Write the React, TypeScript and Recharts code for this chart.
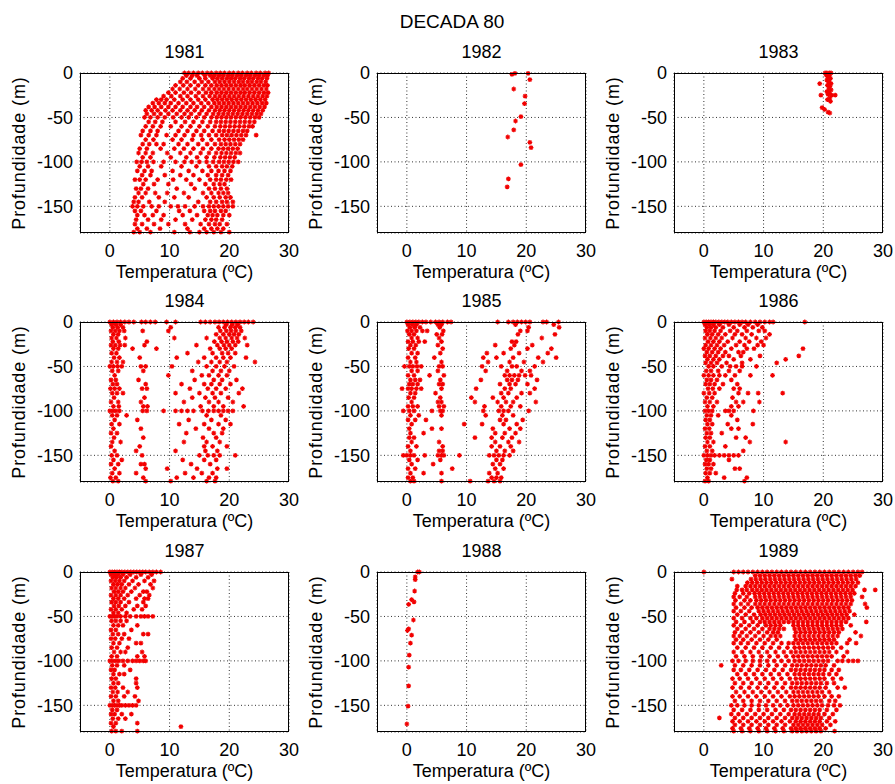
import { ScatterChart, Scatter, XAxis, YAxis, CartesianGrid } from "recharts";

// each row: [profundidade (m), temperaturas (ºC) medidas nessa profundidade]
type Row = [number, number[]];

const years = ["1981", "1982", "1983", "1984", "1985", "1986", "1987", "1988", "1989"];
const xTicks = [0, 10, 20, 30];
const yTicks = [0, -50, -100, -150];

const d1981: Row[] = [
  [0, [12.5, 13.2, 14, 14.8, 15.5, 16.3, 17, 17.8, 18.5, 19.2, 20, 20.7, 21.5, 22.2, 23, 23.7, 24.5, 25.2, 26, 26.6]],
  [-3, [12.8, 13.8, 14.6, 15.9, 16.8, 17.5, 18.3, 19, 19.8, 20.5, 21.3, 22, 22.8, 23.5, 24.3, 25, 25.8, 26.4]],
  [-6, [12.2, 13.5, 15, 16, 17.2, 18, 18.8, 19.6, 20.3, 21, 21.8, 22.5, 23.3, 24, 24.8, 25.5, 26.3]],
  [-10, [11.8, 12.9, 14.2, 15.4, 16.5, 17.6, 18.4, 19.2, 20, 20.8, 21.6, 22.3, 23.1, 23.8, 24.6, 25.3, 26.1]],
  [-14, [11, 12.3, 13.5, 14.8, 16, 17, 17.9, 18.7, 19.5, 20.3, 21.1, 21.9, 22.6, 23.4, 24.2, 25, 25.8, 26.4]],
  [-18, [10.5, 11.7, 13, 14.3, 15.6, 16.6, 17.5, 18.3, 19.1, 19.9, 20.7, 21.5, 22.3, 23, 23.8, 24.6, 25.4, 26.2]],
  [-22, [9.8, 11, 12.4, 13.6, 14.9, 16.1, 17, 17.9, 18.7, 19.5, 20.3, 21.1, 21.9, 22.6, 23.4, 24.2, 25, 25.8, 26.5]],
  [-26, [9, 10.3, 11.8, 13, 14.4, 15.6, 16.7, 17.6, 18.4, 19.2, 20, 20.8, 21.6, 22.4, 23.2, 24, 24.8, 25.6, 26.3]],
  [-30, [7.8, 8.6, 9.5, 10.8, 12.2, 13.5, 14.8, 16, 17.2, 18, 18.8, 19.6, 20.4, 21.2, 22, 22.8, 23.6, 24.4, 25.2, 26]],
  [-34, [7.2, 8.2, 9.2, 10.2, 11.5, 12.8, 14, 15.3, 16.5, 17.5, 18.3, 19.1, 19.9, 20.7, 21.5, 22.3, 23.1, 23.9, 24.7, 25.5, 26.2]],
  [-38, [6.5, 7.5, 8.6, 9.8, 11, 12.2, 13.5, 14.6, 15.8, 17, 17.9, 18.7, 19.5, 20.3, 21.1, 21.9, 22.7, 23.5, 24.3, 25.1, 25.9]],
  [-42, [6, 7, 8, 9.3, 10.5, 11.8, 13, 14.2, 15.4, 16.6, 17.6, 18.4, 19.2, 20, 20.8, 21.6, 22.4, 23.2, 24, 24.8, 25.6]],
  [-46, [6.2, 7.4, 8.5, 9.8, 11.2, 12.5, 13.6, 15, 16.2, 17.3, 18.2, 19, 19.8, 20.6, 21.4, 22.2, 23, 23.8, 24.6, 25.3]],
  [-50, [5.8, 6.8, 8, 9.2, 10.6, 12, 13.2, 14.5, 15.8, 17, 17.9, 18.7, 19.5, 20.3, 21.1, 21.9, 22.7, 23.5, 24.3, 25]],
  [-55, [6.5, 7.6, 8.8, 11, 12.6, 14, 15.5, 16.8, 17.8, 18.6, 19.4, 20.2, 21, 21.8, 22.6, 23.4, 24.2]],
  [-60, [6, 7.2, 8.5, 10.2, 12, 13.5, 15, 16.4, 17.6, 18.5, 19.3, 20.1, 20.9, 21.7, 22.5, 23.3, 23.9]],
  [-65, [5.5, 6.8, 8, 11.5, 13, 14.5, 15.8, 17.2, 18.3, 19.1, 19.9, 20.7, 21.5, 22.3, 23]],
  [-70, [5.2, 6.5, 7.8, 9.5, 11, 12.5, 14, 15.3, 16.6, 17.8, 18.8, 19.6, 20.4, 21.2, 22, 22.8, 24.5]],
  [-75, [6, 7.3, 10.5, 12, 13.8, 15.5, 17, 18.3, 19.2, 20, 20.8, 21.6, 22.3]],
  [-80, [5.5, 6.6, 7.8, 9, 11.5, 13, 14.8, 16.3, 17.6, 18.6, 19.4, 20.2, 21, 21.8]],
  [-85, [5, 6.2, 8.5, 10.8, 12.4, 14, 15.6, 17, 18.2, 19, 19.8, 20.6, 21.4]],
  [-90, [4.8, 6, 7.2, 9.6, 11.8, 13.5, 15.2, 16.6, 17.8, 18.7, 19.5, 20.3, 21.1, 21.8]],
  [-95, [5.5, 6.8, 10.2, 12.8, 14.6, 16.2, 17.5, 18.5, 19.3, 20.1, 20.9]],
  [-100, [4.5, 5.3, 6.2, 7.3, 9, 11, 12.5, 13.7, 15, 16.2, 17.3, 18.3, 19.1, 19.9, 20.7, 21.5]],
  [-105, [5, 6.4, 8.6, 12, 14.5, 16.6, 17.8, 18.8, 19.6, 20.5]],
  [-110, [4.6, 5.8, 7, 10.5, 13.2, 15.5, 17, 18.2, 19.2, 20.2]],
  [-115, [5.4, 6.8, 9.2, 11.8, 14, 16.4, 17.8, 18.8, 19.8]],
  [-120, [4.2, 5, 6, 8, 10.6, 12.8, 15, 16.8, 17.8, 18.6, 19.5, 20.3]],
  [-125, [5.6, 7.4, 9.8, 13.6, 16, 17.4, 18.4, 19.2]],
  [-130, [4.4, 5.2, 6.4, 11.2, 14.2, 16.6, 17.6, 18.6, 19.6]],
  [-135, [4.8, 6, 7.6, 9.6, 12.4, 15.6, 17, 18.2, 19, 19.8]],
  [-140, [4.2, 5.4, 8.2, 10.8, 13.2, 16.2, 17.4, 18.4, 19.4, 20.2]],
  [-145, [4, 4.8, 6.6, 9.2, 14.8, 16.8, 17.8, 18.8, 19.6, 20.6]],
  [-150, [3.8, 4.6, 5.6, 7, 8.2, 10.2, 11.4, 12.6, 14.2, 15.6, 16.6, 17.4, 18.2, 19, 19.8, 20.6]],
  [-155, [4.2, 5.2, 7.8, 11.6, 13.4, 15.8, 16.8, 17.6, 18.6, 19.4]],
  [-160, [4.6, 5.8, 7.2, 9, 12.2, 14.6, 16.4, 17.2, 18, 19, 20]],
  [-165, [4.4, 6.4, 8.6, 11, 13.8, 16, 17, 17.8, 18.8]],
  [-170, [4.2, 5.4, 7.4, 9.8, 12.6, 15.2, 16.6, 17.6, 18.4, 19.6]],
  [-175, [4.6, 6.2, 8.4, 13, 15.8, 17, 18, 19]],
  [-179, [4, 5, 6.8, 10.8, 13.4, 15, 16.2, 17.4, 18.6, 20]],
];

const d1982: Row[] = [
  [-0.5, [18.1, 20.3]],
  [-1.5, [17.6]],
  [-7.5, [20.6]],
  [-18, [17.9]],
  [-26, [19.8]],
  [-34.5, [19.7]],
  [-49, [19.1]],
  [-54, [18.2]],
  [-64, [17.9]],
  [-72, [16.9]],
  [-78, [20.6]],
  [-84, [20.8]],
  [-103, [19.1]],
  [-119, [17]],
  [-128, [16.8]],
];

const d1983: Row[] = [
  [0, [20.3, 20.6, 21, 21.3]],
  [-2, [20.5]],
  [-3, [21]],
  [-5, [20.8]],
  [-6, [21.2]],
  [-8, [20.6]],
  [-9, [21]],
  [-11, [20.9]],
  [-12, [19.4, 21.3]],
  [-14, [20.7]],
  [-15, [21.1]],
  [-18, [20.9]],
  [-19, [21.3]],
  [-21, [20.6]],
  [-22, [21]],
  [-24, [20.8]],
  [-25, [19.6, 21.4, 22]],
  [-28, [21.1]],
  [-30, [20.7]],
  [-32, [21.2]],
  [-39, [19.8]],
  [-41, [20.2]],
  [-44, [20.8]],
  [-45, [21.1]],
];

const d1984: Row[] = [
  [0, [0, 0.6, 1.2, 1.8, 2.5, 3.2, 4, 5.3, 6, 6.8, 7.6, 9.5, 11, 15.2, 16, 16.8, 17.6, 18.3, 19, 19.7, 20.4, 21.1, 21.8, 22.5, 23.2, 24]],
  [-3, [0.3, 1, 1.8, 19.5, 20.5, 21.4]],
  [-6, [0.5, 1.3, 2.2, 10.2, 18.2, 19.2, 20.2, 21, 21.8]],
  [-10, [0.2, 0.9, 1.6, 2.4, 5.5, 9.8, 18.5, 19.5, 20.3, 21.1, 22]],
  [-14, [0.6, 1.4, 17.8, 19, 20, 20.8, 21.6]],
  [-18, [0.3, 1.1, 2.6, 10.8, 16.2, 18.4, 19.4, 20.4, 21.3, 22.6]],
  [-22, [0.5, 1.5, 6.2, 17.5, 18.7, 19.6, 20.6, 21.5]],
  [-26, [0.2, 0.9, 1.7, 2.5, 5.8, 14.5, 18, 19.1, 20, 21, 23]],
  [-30, [0.6, 1.4, 3.8, 7.8, 16.8, 18.4, 19.4, 20.4]],
  [-35, [0.3, 1.1, 13, 17.2, 18.8, 19.8, 21]],
  [-40, [0.7, 1.6, 5, 11.2, 15.8, 17.8, 19, 20.2, 22.8]],
  [-45, [0.3, 1.2, 2.2, 14.8, 17, 18.4, 19.6, 24.3]],
  [-50, [0, 0.6, 1.3, 2, 5.2, 6, 10.4, 16.2, 17.8, 19.2, 20.8]],
  [-55, [0.4, 1.4, 5.6, 13.8, 17.2, 18.6, 20]],
  [-60, [0.8, 9.8, 15.4, 16.6, 18.2, 19.6]],
  [-65, [0.2, 1, 4.8, 14.2, 17.4, 18.8, 21.2]],
  [-70, [0.5, 1.2, 6, 12, 15.8, 17, 18.4, 20.2]],
  [-75, [0.1, 0.8, 1.6, 5.4, 6.2, 13.4, 16.4, 17.8, 19.4, 22.2]],
  [-80, [0.4, 1.2, 2.2, 11, 15, 17.2, 18.6, 21.6]],
  [-85, [0.7, 5.8, 13.8, 16, 17.6, 19.8]],
  [-90, [0.2, 1.4, 5.2, 12.4, 16.6, 18.2, 20.6]],
  [-95, [0.6, 1.5, 5.6, 6.3, 15.2, 17.4, 19, 22.4]],
  [-100, [0, 0.5, 1, 1.6, 5.5, 6.2, 9, 11, 12, 13, 14, 15.5, 16.5, 17.4, 18.2, 19, 19.8, 20.6]],
  [-105, [0.4, 1.2, 2.8, 16.2, 18.6]],
  [-110, [0.8, 4.6, 13.2, 17, 19.4]],
  [-115, [0.3, 1.6, 11.6, 15.8, 18.2, 20.2]],
  [-120, [0.6, 5.2, 14.4, 16.6, 19]],
  [-125, [0.2, 1.2, 12.8, 17.4, 18.8]],
  [-130, [0.7, 5.6, 15.6, 17.8]],
  [-135, [0.4, 1.8, 12.4, 16.2, 18.4]],
  [-140, [0.2, 5, 15.8, 17.2, 19.6]],
  [-145, [0.8, 4.4, 11, 16, 18]],
  [-150, [0.3, 1.2, 5.4, 15, 16.4, 17.4, 18.4, 21]],
  [-155, [0.6, 2, 12.2, 15.8, 17.8]],
  [-160, [0.2, 1.4, 5.2, 5.8, 13.6, 16.8]],
  [-165, [0.8, 6, 9.6, 14.6, 18, 19.6]],
  [-170, [0.4, 1.6, 4.4, 12.6, 15.4, 17.2]],
  [-175, [0.1, 1, 5.6, 11.2, 14, 16.6, 17.8]],
  [-179, [0.5, 1.4, 6, 10.2, 16.2, 17.6]],
];

const d1985: Row[] = [
  [0, [0, 0.5, 1, 1.5, 2, 2.6, 3.2, 4, 4.8, 5.4, 6, 6.8, 7.4, 15.2, 17, 17.8, 18.5, 19.2, 19.9, 20.6, 22.8, 23.4, 25.4]],
  [-3, [0.2, 0.9, 1.6, 5.2, 5.8, 18.2, 24.6]],
  [-6, [0.5, 1.3, 2.2, 5.5, 20.4, 25.5]],
  [-10, [0.1, 0.8, 1.6, 2.6, 3.4, 6.1, 19, 20.2]],
  [-14, [0.4, 1.2, 5, 5.9, 18.6, 24.8]],
  [-18, [0.8, 1.8, 5.4, 22.6]],
  [-22, [0.2, 1, 2, 3, 5.8, 17.6, 18.3]],
  [-26, [0.6, 1.5, 5.2, 14.8, 18, 21]],
  [-30, [0.3, 1.2, 6, 17.4, 20.2, 24.2]],
  [-35, [0.8, 1.8, 5.6, 13.4, 16.2, 18.8, 23.6]],
  [-40, [0.2, 1.4, 4.6, 12.8, 15, 17.8, 22, 25]],
  [-45, [0.6, 1.6, 5.8, 13.6, 17.2, 19.6, 22.8]],
  [-50, [-0.4, 0.4, 1, 1.7, 2.4, 5.4, 6, 12.6, 15.8, 17.6, 18.4, 21.4]],
  [-55, [0.8, 1.8, 5.2, 13.2, 16.8, 19.2, 20.6]],
  [-60, [0.2, 1.2, 3.8, 6.2, 16.4, 17.2, 18, 18.8, 19.8, 20.8]],
  [-65, [0.6, 1.4, 2.2, 5.6, 12.4, 16.8, 17.6, 18.6, 21.8]],
  [-70, [0.4, 1, 1.8, 5.4, 6, 15.6, 17.2, 18.2, 20.2]],
  [-75, [-0.8, 0.2, 0.8, 1.6, 2.4, 5.8, 11.6, 16.4, 17.4, 21.4]],
  [-80, [0.6, 1.4, 4.8, 15.8, 17, 19.2, 20.6]],
  [-85, [0.3, 1.2, 5.6, 10.8, 14.4, 16.2, 18.4]],
  [-90, [0.8, 5.2, 5.8, 11.4, 15.2, 16.6, 17.8, 21.6]],
  [-95, [0.2, 1, 1.8, 5.4, 6.2, 13, 15.8, 17.4, 19]],
  [-100, [-0.6, 0.4, 1.2, 4.2, 5.6, 6, 12.8, 15.4, 16.2, 17, 20.4]],
  [-105, [0.6, 2, 5.8, 13.2, 16, 17.8]],
  [-110, [0.2, 1.4, 3.2, 15.6, 16.6, 19.4]],
  [-115, [0.8, 9.6, 12.6, 16.2, 18.4]],
  [-120, [0.4, 4.2, 5.8, 14.4, 17.2, 19]],
  [-125, [0.6, 2.8, 14.8, 16.4, 18.2]],
  [-130, [0.4, 1.2, 11.4, 14.2, 16, 17.6]],
  [-135, [0.8, 5.4, 14.8, 17, 18.8]],
  [-140, [0.2, 1.6, 6, 14.2, 15.6, 17.4]],
  [-145, [0.6, 5.4, 6, 15, 16.4, 17.8]],
  [-150, [-0.6, 0, 0.6, 1.2, 3, 5.2, 5.8, 6.2, 8.8, 13.8, 14.6, 15.4, 16.2, 17.2]],
  [-155, [0.4, 1.8, 5.6, 15, 16]],
  [-160, [0.8, 4.4, 14.4, 15.6]],
  [-165, [0.2, 1.4, 7.6, 14.8, 16.2]],
  [-170, [0.6, 2.8, 5.8, 13.8, 15.2]],
  [-175, [0.2, 1, 14.2, 15, 15.8]],
  [-179, [0.6, 1.2, 5.8, 10.6, 13.6, 14.6, 15.6]],
];

const d1986: Row[] = [
  [0, [0, 0.4, 0.8, 1.2, 1.6, 2, 2.5, 3, 3.5, 4, 4.6, 5.2, 5.8, 6.4, 7, 7.8, 8.6, 9.4, 10.2, 11, 11.6, 16.9]],
  [-3, [0.2, 0.9, 1.6, 2.6, 4.2, 6, 7.4, 9]],
  [-6, [0.5, 1.2, 2, 3.2, 5, 6.8, 8.2, 9.8]],
  [-10, [0.3, 1, 1.8, 2.8, 4.4, 5.6, 7.2, 9.2, 10.2]],
  [-14, [0.6, 1.4, 2.4, 3.6, 5.2, 6.4, 8, 11]],
  [-18, [0.2, 1.1, 2, 3, 4.8, 7, 8.8, 10.4]],
  [-22, [0.7, 1.6, 2.6, 4, 6, 7.6, 9.6]],
  [-26, [0.3, 1.2, 2.2, 3.4, 5.4, 6.8, 9, 10]],
  [-30, [0, 0.8, 1.8, 2.8, 4.6, 7.2, 8.4, 16.6]],
  [-34, [0.5, 1.4, 2.4, 3.6, 5.8, 6.6]],
  [-38, [0.2, 1, 2, 3.2, 4.2, 6.2, 9.4, 15.9]],
  [-42, [0.6, 1.6, 2.6, 5, 7.8, 13.7]],
  [-46, [0.3, 1.2, 2.2, 3.8, 6.4, 12.2]],
  [-50, [0.8, 1.6, 3, 4.4, 5.4, 6.4, 8.8]],
  [-55, [0.4, 1.2, 2.4, 4.2, 6]],
  [-60, [0, 0.8, 1.6, 2.6, 3.6, 5.2, 7.8, 11.5]],
  [-65, [0.5, 1.2, 2.2, 4.6]],
  [-70, [0.3, 1, 1.8, 3.2, 5.6]],
  [-75, [0.7, 1.5, 2.6, 5, 6]],
  [-80, [0, 0.9, 1.8, 5.8, 7.4, 9.1, 13.2]],
  [-85, [0.5, 1.4, 4.8]],
  [-90, [0.2, 1, 2.2, 5.4, 6.6, 9.3]],
  [-95, [0.6, 1.6, 4.6, 5.8]],
  [-100, [0.2, 0.8, 1.4, 3.6, 4.2, 5, 8.3]],
  [-105, [0.5, 1.2, 2.4, 4.6]],
  [-110, [0.3, 1, 5.6]],
  [-115, [0.6, 1.4, 4, 8.2]],
  [-120, [0.2, 0.9, 4.6, 5.8]],
  [-125, [0.5, 1.2, 3]],
  [-130, [0.3, 1, 5.4, 7]],
  [-135, [0.6, 1.6, 7.7, 13.7]],
  [-140, [0.2, 1, 3.6]],
  [-145, [0.5, 1.4, 6.6]],
  [-150, [0, 0.6, 1.2, 1.8, 2.6, 3.4, 4.2, 5, 5.8]],
  [-155, [0.4, 1, 4.2]],
  [-160, [0.2, 0.8, 1.6]],
  [-165, [0.5, 1.2, 5.2, 6]],
  [-170, [0.3, 1, 2]],
  [-175, [0.6, 3.4, 7.2]],
  [-179, [0.2, 0.8, 6.8]],
];

const d1987: Row[] = [
  [0, [0, 0.4, 0.8, 1.2, 1.6, 2, 2.5, 3, 3.5, 4, 4.5, 5, 5.5, 6, 6.6, 7.2, 7.8, 8.5]],
  [-3, [0.2, 0.8, 1.4, 2.2, 3.4, 5.2, 7]],
  [-6, [0.5, 1.1, 1.8, 2.8, 4.4, 6.4]],
  [-10, [0.2, 0.9, 1.6, 2.4, 3.8, 5.8, 7.4]],
  [-14, [0.6, 1.3, 2, 3.2, 4.8, 6.8]],
  [-18, [0.3, 1, 1.8, 2.6, 4.2, 7.2]],
  [-22, [0.7, 1.4, 2.2, 3.6, 5.6, 6.2]],
  [-26, [0.2, 1, 1.8, 3, 5, 6.6]],
  [-30, [0.6, 1.4, 2.4, 4.4, 5.8, 6.4]],
  [-34, [0.3, 1, 1.8, 3.2, 5.6]],
  [-38, [0.7, 1.5, 2.6, 4.6, 6]],
  [-42, [0.2, 1, 2, 4, 5.4]],
  [-46, [0.6, 1.4, 2.8]],
  [-50, [0, 0.4, 0.8, 1.2, 1.8, 2.6, 3.4, 4.4, 5.2, 5.8, 6.4, 7.2]],
  [-55, [0.3, 1, 1.8, 2.8]],
  [-60, [0.6, 1.4, 2.2, 4.6]],
  [-65, [0.2, 1, 3.6]],
  [-70, [0.5, 1.4, 2.4, 5.6, 6.4]],
  [-75, [0.2, 0.9, 2, 3.2]],
  [-80, [0.6, 1.6, 4.4, 5.2]],
  [-85, [0.3, 1.2, 3]],
  [-90, [0.7, 1.8, 2.6, 5.4]],
  [-95, [0.3, 1.2, 4.6, 5.8]],
  [-100, [0, 0.5, 1, 1.5, 2.2, 3, 3.8, 4.4, 5, 5.6, 6]],
  [-105, [0.4, 1.2, 2.4]],
  [-110, [0.2, 0.8, 3.4]],
  [-115, [0.6, 1.6, 2.4]],
  [-120, [0.3, 1, 4.4]],
  [-125, [0.6, 1.4, 4.4]],
  [-130, [0.2, 0.9, 2.2, 4.6]],
  [-135, [0.5, 1.3, 3]],
  [-140, [0.2, 1, 2.4, 4.2]],
  [-145, [0.6, 1.4, 4.8]],
  [-150, [0, 0.4, 0.8, 1.2, 1.6, 2, 2.6, 3.2, 3.8, 4.4]],
  [-155, [0.4, 1.2]],
  [-160, [0.2, 0.8, 2, 3.6]],
  [-165, [0.5, 1.4, 2.6]],
  [-170, [0.2, 1, 4.6]],
  [-174, [0.6, 11.9]],
  [-179, [0.3, 1, 2, 4.6]],
];

const d1988: Row[] = [
  [0, [1.8, 2.1]],
  [-5.6, [1.4]],
  [-8.6, [1.4]],
  [-21.4, [1.3]],
  [-31, [0.8]],
  [-33.5, [1.2]],
  [-36.5, [0.3]],
  [-54, [1.1]],
  [-64, [0.3]],
  [-65.8, [0.1]],
  [-71, [0.8]],
  [-80, [0.6]],
  [-93.6, [0.4]],
  [-107, [0.3]],
  [-128, [0.3]],
  [-151, [0.2]],
  [-171, [0]],
];

const d1989: Row[] = [
  [0, [0, 5, 5.8, 6.6, 7.4, 8.2, 9, 9.8, 10.6, 11.4, 12.2, 13, 13.8, 14.6, 15.4, 16.2, 17, 17.8, 18.6, 19.4, 20.2, 21, 21.8, 22.6, 23.4, 24.2, 25, 25.8, 26.5]],
  [-4, [8.6, 9.4, 10.2, 11, 11.8, 12.6, 13.4, 14.2, 15, 15.8, 16.6, 17.4, 18.2, 19, 19.8, 20.6, 21.4, 22.2, 23, 23.8, 24.6, 25.4, 26.1]],
  [-8, [4.7, 7.9, 8.7, 9.5, 10.3, 11.1, 11.9, 12.7, 13.5, 14.3, 15.1, 15.9, 16.7, 17.5, 18.3, 19.1, 19.9, 20.7, 21.5, 22.3, 23.1, 23.9, 24.7, 25.5]],
  [-12, [7.3, 8.1, 8.9, 9.7, 10.5, 11.3, 12.1, 12.9, 13.7, 14.5, 15.3, 16.1, 16.9, 17.7, 18.5, 19.3, 20.1, 20.9, 21.7, 22.5, 23.3, 24.1, 24.9, 25.8]],
  [-16, [5.6, 7, 7.8, 8.6, 9.4, 10.2, 11, 11.8, 12.6, 13.4, 14.2, 15, 15.8, 16.6, 17.4, 18.2, 19, 19.8, 20.6, 21.4, 22.2, 23, 23.8, 24.6, 25.4]],
  [-20, [5.5, 6.4, 7.2, 8.1, 8.9, 9.7, 10.5, 11.3, 12.1, 12.9, 13.7, 14.5, 15.3, 16.1, 16.9, 17.7, 18.5, 19.3, 20.1, 20.9, 21.7, 22.5, 23.3, 24.1, 24.9, 26.9, 28.7]],
  [-24, [5.2, 6.6, 7.6, 8.5, 9.3, 10.1, 10.9, 11.7, 12.5, 13.3, 14.1, 14.9, 15.7, 16.5, 17.3, 18.1, 18.9, 19.7, 20.5, 21.3, 22.1, 22.9, 23.7, 24.5, 25.2]],
  [-28, [5, 6, 7.2, 8.6, 9.4, 10.2, 11, 11.8, 12.6, 13.4, 14.2, 15, 15.8, 16.6, 17.4, 18.2, 19, 19.8, 20.6, 21.4, 22.2, 23, 23.8, 24.6, 26.5]],
  [-32, [5.3, 6.8, 7.8, 8.8, 9.6, 10.4, 11.2, 12, 12.8, 13.6, 14.4, 15.2, 16, 16.8, 17.6, 18.4, 19.2, 20, 20.8, 21.6, 22.4, 23.2, 24, 24.8]],
  [-36, [5, 6.2, 7.4, 8.6, 9.4, 10.2, 11, 11.8, 12.6, 13.4, 14.2, 15, 15.8, 16.6, 17.4, 18.2, 19, 19.8, 20.6, 21.4, 22.2, 23, 23.8, 24.6, 27]],
  [-40, [5.4, 6.8, 8, 9, 9.8, 10.6, 11.4, 12.2, 13, 13.8, 14.6, 15.4, 16.2, 17, 17.8, 18.6, 19.4, 20.2, 21, 21.8, 22.6, 23.4, 24.2, 27.3]],
  [-44, [5, 6.2, 7.6, 9.2, 10, 10.8, 11.6, 12.4, 13.2, 14, 14.8, 15.6, 16.4, 17.2, 18, 18.8, 19.6, 20.4, 21.2, 22, 22.8, 23.6, 24.4]],
  [-48, [5.6, 7, 8.4, 9.5, 10.3, 11.1, 11.9, 12.7, 13.5, 14.3, 15.1, 15.9, 16.7, 17.5, 18.3, 19.1, 19.9, 20.7, 21.5, 22.3, 23.1, 23.9, 25.2]],
  [-52, [5, 6.4, 7.8, 8.8, 9.8, 10.6, 11.4, 12.2, 13, 13.8, 14.6, 15.4, 16.2, 17, 17.8, 18.6, 19.4, 20.2, 21, 21.8, 22.6, 23.4, 24.2]],
  [-56, [5.4, 6.8, 8.2, 9.4, 10.2, 11, 11.8, 12.6, 13.4, 14.2, 15, 15.8, 16.6, 17.4, 18.2, 19, 19.8, 20.6, 21.4, 22.2, 23, 23.8, 27.2]],
  [-60, [5, 6.2, 7.6, 9, 10.4, 11.2, 12, 12.8, 15, 15.8, 16.6, 17.4, 18.2, 19, 19.8, 20.6, 21.4, 22.2, 23, 24.6]],
  [-64, [5.6, 7, 8.4, 9.8, 11, 11.8, 12.6, 13.4, 15.2, 16, 16.8, 17.6, 18.4, 19.2, 20, 20.8, 21.6, 22.4, 23.2]],
  [-68, [5.2, 6.4, 7.8, 9.2, 10.6, 11.6, 12.4, 15.4, 16.2, 17, 17.8, 18.6, 19.4, 20.2, 21, 21.8, 22.6, 25.4]],
  [-72, [5, 6, 7.2, 8.6, 10, 11.2, 12, 12.8, 15.2, 16, 16.8, 17.6, 18.4, 19.2, 20, 20.8, 21.6, 22.4, 26.3]],
  [-76, [5.4, 6.6, 8, 9.4, 10.8, 12.2, 15.4, 16.2, 17, 17.8, 18.6, 19.4, 20.2, 21, 21.8, 24.4]],
  [-80, [5, 6.2, 7.4, 8.8, 10.2, 11.6, 13, 14.2, 15, 15.8, 16.6, 17.4, 18.2, 19, 19.8, 20.6, 21.4, 22.2, 24, 25.5]],
  [-85, [5.6, 7, 8.4, 9.8, 11.2, 12.6, 14, 15.2, 16, 16.8, 17.6, 18.4, 19.2, 20, 20.8, 21.6, 23]],
  [-90, [5, 6.4, 7.8, 9.2, 10.6, 12, 13.4, 14.6, 15.4, 16.2, 17, 17.8, 18.6, 19.4, 20.2, 21, 22.2, 24]],
  [-95, [5.4, 6.8, 8.2, 9.6, 11, 12.4, 13.8, 15, 15.8, 16.6, 17.4, 18.2, 19, 19.8, 20.6, 21.4, 23.4]],
  [-100, [4.8, 5.8, 7, 8.2, 9.4, 10.6, 11.8, 13, 14.2, 15.2, 16, 16.8, 17.6, 18.4, 19.2, 20, 20.8, 22.4, 23.2, 24.2, 25, 25.8]],
  [-105, [2.9, 5.2, 6.6, 8, 9.4, 10.8, 12.2, 13.6, 14.8, 15.6, 16.4, 17.2, 18, 18.8, 19.6, 20.4, 21.8]],
  [-110, [5, 6.2, 7.6, 9, 10.4, 11.8, 13.2, 14.6, 15.4, 16.2, 17, 17.8, 18.6, 19.4, 20.2, 21.4, 22.6]],
  [-115, [5.6, 7, 8.4, 9.8, 11.2, 12.6, 14, 15.2, 16, 16.8, 17.6, 18.4, 19.2, 20, 21, 22.2]],
  [-120, [4.8, 6, 7.4, 8.8, 10.2, 11.6, 13, 14.4, 15.4, 16.2, 17, 17.8, 18.6, 19.4, 20.2, 21.6, 23]],
  [-125, [5.2, 6.6, 8, 9.4, 10.8, 12.2, 13.6, 14.8, 15.6, 16.4, 17.2, 18, 18.8, 19.6, 20.6, 21.8]],
  [-130, [4.8, 6.2, 7.6, 9, 10.4, 11.8, 13.2, 14.6, 15.4, 16.2, 17, 17.8, 18.6, 19.4, 20.4, 22.4, 23.6]],
  [-135, [5.4, 6.8, 8.2, 9.6, 11, 12.4, 13.8, 15, 15.8, 16.6, 17.4, 18.2, 19, 19.8, 21]],
  [-140, [4.8, 6, 7.4, 8.8, 10.2, 11.6, 13, 14.4, 15.2, 16, 16.8, 17.6, 18.4, 19.2, 20.2, 21.4, 22.6]],
  [-145, [5.2, 6.6, 8, 9.4, 10.8, 12.2, 13.6, 14.8, 15.6, 16.4, 17.2, 18, 18.8, 19.6, 21, 22]],
  [-150, [4.6, 5.6, 6.8, 8, 9.2, 10.4, 11.6, 12.8, 14, 15, 15.8, 16.6, 17.4, 18.2, 19, 19.8, 20.8, 21.8, 22.8]],
  [-155, [5, 6.4, 7.8, 9.2, 10.6, 12, 13.4, 14.6, 15.4, 16.2, 17, 17.8, 18.6, 19.4, 20.6, 22.2]],
  [-160, [4.6, 5.8, 7.2, 8.6, 10, 11.4, 12.8, 14.2, 15.2, 16, 16.8, 17.6, 18.4, 19.2, 20.2, 21.6]],
  [-164, [2.6, 5.2, 6.6, 8, 9.4, 10.8, 12.2, 13.6, 14.8, 15.6, 16.4, 17.2, 18, 18.8, 19.6, 21]],
  [-168, [4.8, 6, 7.4, 8.8, 10.2, 11.6, 13, 14.4, 15.4, 16.2, 17, 17.8, 18.6, 19.4, 20.6, 22]],
  [-172, [5.2, 6.6, 8, 9.4, 10.8, 12.2, 13.6, 15, 15.8, 16.6, 17.4, 18.2, 19, 19.8, 21.2]],
  [-176, [4.8, 6.2, 7.6, 9, 10.4, 11.8, 13.2, 14.6, 15.4, 16.2, 17, 17.8, 18.6, 19.4, 20.4]],
  [-179, [5, 6.4, 7.8, 9.2, 10.6, 12, 13.4, 14.8, 15.6, 16.4, 17.2, 18, 18.8, 19.6, 21.9]],
];

const panels = [d1981, d1982, d1983, d1984, d1985, d1986, d1987, d1988, d1989];

const FONT = '"Liberation Sans", Arial, Helvetica, sans-serif';
const RED = "#f20000";
const PLOT_W = 209;
const PLOT_H = 160;
const COL_X = [80, 377, 674];
const ROW_Y = [73, 322, 572];
const AXIS_W = 70;
const TOP = 10;
const RIGHT = 16;
const BOTTOM_H = 30;

function toPoints(rows: Row[]) {
  return rows.flatMap(([d, ts]) => ts.map((t) => ({ t, d })));
}

function Marker(props: any) {
  const { cx, cy } = props;
  if (typeof cx !== "number" || typeof cy !== "number") return <g />;
  const r = 2.4;
  const s = 1.7;
  return (
    <path
      d={`M${cx - r} ${cy}H${cx + r}M${cx} ${cy - r}V${cy + r}M${cx - s} ${cy - s}L${cx + s} ${cy + s}M${cx - s} ${cy + s}L${cx + s} ${cy - s}`}
      stroke={RED}
      strokeWidth={1.2}
      fill="none"
    />
  );
}

const tickStyle = { fill: "#000", fontSize: 18, fontFamily: FONT };
const textStyle = {
  position: "absolute" as const,
  fontFamily: FONT,
  fontSize: 18,
  color: "#000",
  textAlign: "center" as const,
  whiteSpace: "nowrap" as const,
  height: 20,
  lineHeight: "20px",
};

function Panel({ year, rows, left, top }: { year: string; rows: Row[]; left: number; top: number }) {
  return (
    <>
      <div style={{ position: "absolute", left: left - AXIS_W, top: top - TOP }}>
        <ScatterChart
          width={AXIS_W + PLOT_W + RIGHT}
          height={TOP + PLOT_H + BOTTOM_H}
          margin={{ top: TOP, right: RIGHT, bottom: 0, left: 0 }}
        >
          <CartesianGrid stroke="#333" strokeDasharray="1 2.5" />
          <XAxis
            type="number"
            dataKey="t"
            domain={[-5, 30]}
            ticks={xTicks}
            interval={0}
            tickLine={false}
            axisLine={false}
            tickSize={8}
            tickMargin={3}
            height={BOTTOM_H}
            tick={tickStyle}
          />
          <YAxis
            type="number"
            dataKey="d"
            domain={[-180, 0]}
            ticks={yTicks}
            interval={0}
            tickLine={false}
            axisLine={false}
            tickSize={4}
            tickMargin={3}
            width={AXIS_W}
            tick={tickStyle}
          />
          <Scatter data={toPoints(rows)} fill={RED} shape={Marker} isAnimationActive={false} />
        </ScatterChart>
      </div>
      <div
        style={{
          position: "absolute",
          left,
          top,
          width: PLOT_W,
          height: PLOT_H,
          border: "1px solid #000",
          boxSizing: "border-box",
          pointerEvents: "none",
        }}
      />
      <div style={{ ...textStyle, left, top: top - 31, width: PLOT_W }}>{year}</div>
      <div style={{ ...textStyle, left, top: top + PLOT_H + 29, width: PLOT_W }}>Temperatura (ºC)</div>
      <div
        style={{
          ...textStyle,
          left: left - 61 - 100,
          top: top + PLOT_H / 2 - 10,
          width: 200,
          letterSpacing: 0.9,
          transform: "rotate(-90deg)",
        }}
      >
        Profundidade (m)
      </div>
    </>
  );
}

export default function App() {
  return (
    <div style={{ position: "absolute", left: 0, top: 0, width: 895, height: 784, background: "#fff", overflow: "hidden" }}>
      <div style={{ ...textStyle, left: 352, top: 12, width: 200, fontSize: 19 }}>DECADA 80</div>
      {years.map((year, i) => (
        <Panel key={year} year={year} rows={panels[i]} left={COL_X[i % 3]} top={ROW_Y[Math.floor(i / 3)]} />
      ))}
    </div>
  );
}
